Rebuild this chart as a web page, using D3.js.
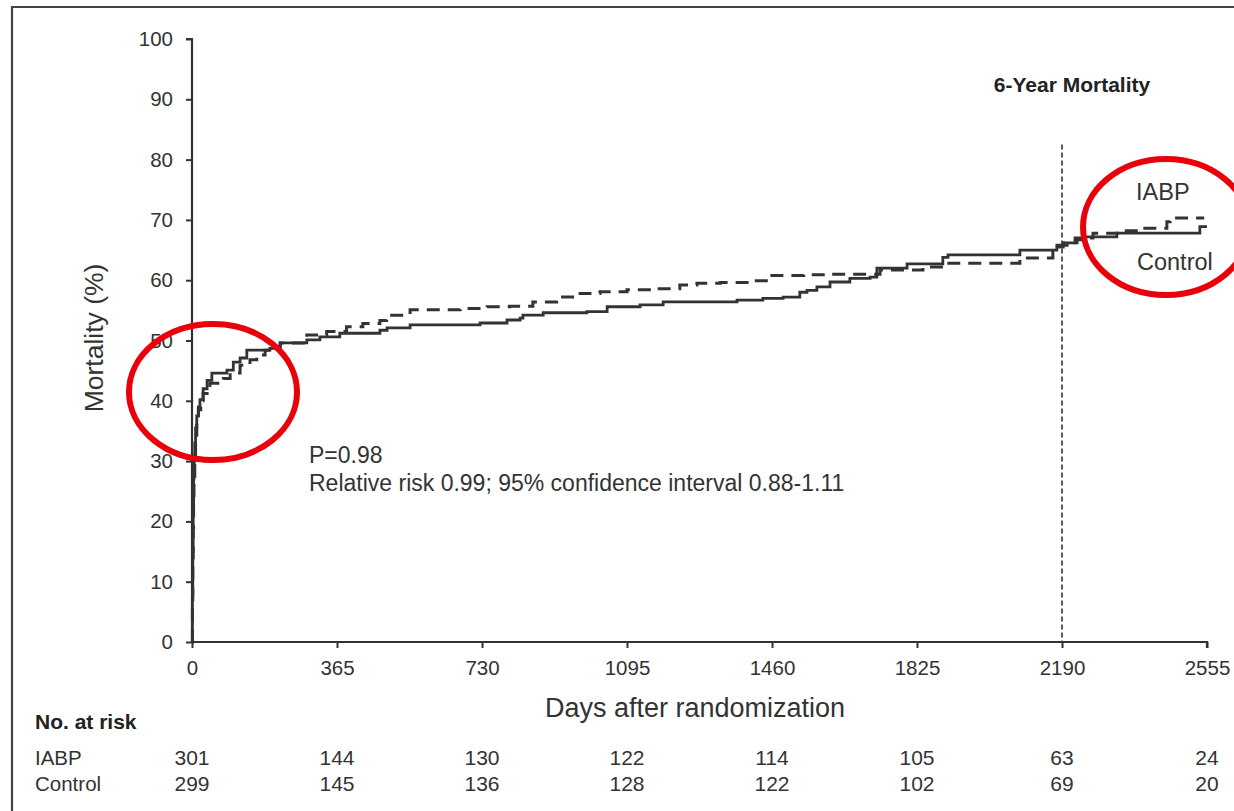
<!DOCTYPE html>
<html>
<head>
<meta charset="utf-8">
<script src="https://cdn.jsdelivr.net/npm/d3@7/dist/d3.min.js"></script>
<style>
  html, body { margin: 0; padding: 0; background: #fff; }
  svg { display: block; font-family: "Liberation Sans", Arial, Helvetica, sans-serif; }
</style>
</head>
<body>
<svg id="chart" width="1234" height="811"></svg>
<script>
// Kaplan-Meier style cumulative mortality (%), step points [day, percent]
const controlCurve = [
  [0, 0], [1, 8], [2, 15], [3, 22], [4, 27], [5, 30], [7, 33], [9, 35.5], [12, 37.5], [16, 39],
  [20, 40.2], [28, 42], [38, 43.4], [50, 44.6], [88, 45.1], [104, 46.4], [121, 47.1], [138, 48.4],
  [196, 48.7], [222, 49.6], [289, 50.1], [322, 50.6], [372, 51.2], [473, 51.7], [491, 52.1],
  [549, 52.6], [725, 52.9], [793, 53.4], [826, 53.7], [833, 54.2], [884, 54.6], [994, 54.8],
  [1045, 55.6], [1128, 55.9], [1186, 56.4], [1372, 56.7], [1437, 57.0], [1488, 57.2], [1530, 58.0],
  [1548, 58.3], [1573, 58.9], [1606, 59.7], [1656, 60.3], [1707, 60.5], [1724, 62.0], [1800, 62.7],
  [1890, 63.8], [1903, 64.2], [2084, 65.0], [2177, 65.8], [2203, 66.2], [2228, 66.7], [2248, 67.2],
  [2328, 67.8], [2537, 68.9], [2555, 68.9]
];

const iabpCurve = [
  [0, 0], [1, 7], [2, 13], [3, 19], [4, 24], [5, 27.5], [7, 31], [9, 34], [12, 36.5], [16, 38.5],
  [22, 40], [28, 41.2], [45, 42.9], [79, 43.7], [96, 44.6], [121, 45.9], [146, 46.8], [163, 47.6],
  [184, 48.4], [200, 49.0], [222, 49.6], [289, 50.9], [339, 51.5], [389, 52.3], [430, 52.8],
  [473, 53.3], [490, 54.2], [549, 55.1], [675, 55.3], [743, 55.6], [800, 55.7], [858, 56.4],
  [918, 57.2], [977, 57.8], [1027, 58.1], [1095, 58.4], [1160, 58.6], [1228, 59.2], [1271, 59.5],
  [1330, 59.6], [1405, 59.9], [1455, 60.8], [1540, 60.9], [1600, 61.0], [1732, 61.7], [1840, 62.2],
  [1900, 62.8], [2084, 63.7], [2167, 65.5], [2193, 66.2], [2223, 67.0], [2268, 67.8], [2336, 68.2],
  [2386, 68.6], [2454, 69.7], [2462, 70.3], [2548, 70.3]
];

const xTicks = [0, 365, 730, 1095, 1460, 1825, 2190, 2555];
const yTicks = [0, 10, 20, 30, 40, 50, 60, 70, 80, 90, 100];
const iabpAtRisk = [301, 144, 130, 122, 114, 105, 63, 24];
const controlAtRisk = [299, 145, 136, 128, 122, 102, 69, 20];
const referenceDay = 2190;
const referenceTop = 82.5;

const svg = d3.select("#chart");
const ink = "#333";

const x = d3.scaleLinear().domain([0, 2555]).range([192, 1207]);
const y = d3.scaleLinear().domain([0, 100]).range([642, 39]);

// outer frame (top and left edges)
svg.append("path")
  .attr("d", "M12,811 V7 H1234")
  .attr("fill", "none")
  .attr("stroke", "#444")
  .attr("stroke-width", 2.2);

// axes
const yAxis = svg.append("g")
  .attr("transform", `translate(${x(0)},0)`)
  .call(d3.axisLeft(y).tickValues(yTicks).tickFormat(d3.format("d"))
    .tickSize(6).tickPadding(13).tickSizeOuter(0));
const xAxis = svg.append("g")
  .attr("transform", `translate(0,${y(0)})`)
  .call(d3.axisBottom(x).tickValues(xTicks).tickFormat(d3.format("d"))
    .tickSize(6).tickPadding(12).tickSizeOuter(0));

[yAxis, xAxis].forEach(g => {
  g.select(".domain").attr("stroke", ink).attr("stroke-width", 2.2);
  g.selectAll(".tick line").attr("stroke", ink).attr("stroke-width", 2);
  g.selectAll(".tick text")
    .attr("fill", ink)
    .style("font-size", "20.5px")
    .style("font-family", "'Liberation Sans', Arial, sans-serif");
});
xAxis.select(".domain").attr("d", `M${x(0)},0H${x(2555)}V6`);
yAxis.select(".domain").attr("d", `M-6,${y(100)}H0V${y(0)}`);

// 6-year reference line
svg.append("line")
  .attr("x1", x(referenceDay)).attr("x2", x(referenceDay))
  .attr("y1", y(referenceTop)).attr("y2", y(0))
  .attr("stroke", ink)
  .attr("stroke-width", 1.6)
  .attr("stroke-dasharray", "5,3");

// survival curves
const line = d3.line()
  .x(d => x(d[0]))
  .y(d => y(d[1]))
  .curve(d3.curveStepAfter);

svg.append("path")
  .datum(controlCurve)
  .attr("d", line)
  .attr("fill", "none")
  .attr("stroke", ink)
  .attr("stroke-width", 2.8);

svg.append("path")
  .datum(iabpCurve)
  .attr("d", line)
  .attr("fill", "none")
  .attr("stroke", ink)
  .attr("stroke-width", 3)
  .attr("stroke-dasharray", "13,8");

// axis titles
svg.append("text")
  .attr("transform", "translate(103,338) rotate(-90)")
  .attr("text-anchor", "middle")
  .attr("fill", ink)
  .style("font-size", "26.5px")
  .text("Mortality (%)");

svg.append("text")
  .attr("x", 695).attr("y", 717)
  .attr("text-anchor", "middle")
  .attr("fill", ink)
  .style("font-size", "27px")
  .text("Days after randomization");

// annotations
svg.append("text")
  .attr("x", 1072).attr("y", 92)
  .attr("text-anchor", "middle")
  .attr("fill", "#222")
  .style("font-size", "21px")
  .style("font-weight", "bold")
  .text("6-Year Mortality");

svg.append("text")
  .attr("x", 1136).attr("y", 200)
  .attr("fill", ink)
  .style("font-size", "23.5px")
  .text("IABP");

svg.append("text")
  .attr("x", 1137).attr("y", 270)
  .attr("fill", ink)
  .style("font-size", "23.5px")
  .text("Control");

svg.append("text")
  .attr("x", 309).attr("y", 463)
  .attr("fill", ink)
  .style("font-size", "23px")
  .text("P=0.98");

svg.append("text")
  .attr("x", 309).attr("y", 491)
  .attr("fill", ink)
  .style("font-size", "23px")
  .text("Relative risk 0.99; 95% confidence interval 0.88-1.11");

// numbers at risk
svg.append("text")
  .attr("x", 35).attr("y", 729)
  .attr("fill", "#222")
  .style("font-size", "21px")
  .style("font-weight", "bold")
  .text("No. at risk");

const rows = [
  { label: "IABP", values: iabpAtRisk, y: 765 },
  { label: "Control", values: controlAtRisk, y: 791 }
];
rows.forEach(r => {
  svg.append("text")
    .attr("x", 35).attr("y", r.y)
    .attr("fill", ink)
    .style("font-size", "20.5px")
    .text(r.label);
  svg.append("g").selectAll("text")
    .data(r.values)
    .join("text")
    .attr("x", (d, i) => x(xTicks[i]))
    .attr("y", r.y)
    .attr("text-anchor", "middle")
    .attr("fill", ink)
    .style("font-size", "21px")
    .text(d => d);
});

// red highlight rings
svg.append("ellipse")
  .attr("cx", 213).attr("cy", 392)
  .attr("rx", 84).attr("ry", 68)
  .attr("fill", "none")
  .attr("stroke", "#e8000b")
  .attr("stroke-width", 6);

svg.append("ellipse")
  .attr("cx", 1166).attr("cy", 227)
  .attr("rx", 83).attr("ry", 68)
  .attr("fill", "none")
  .attr("stroke", "#e8000b")
  .attr("stroke-width", 6);
</script>
</body>
</html>
